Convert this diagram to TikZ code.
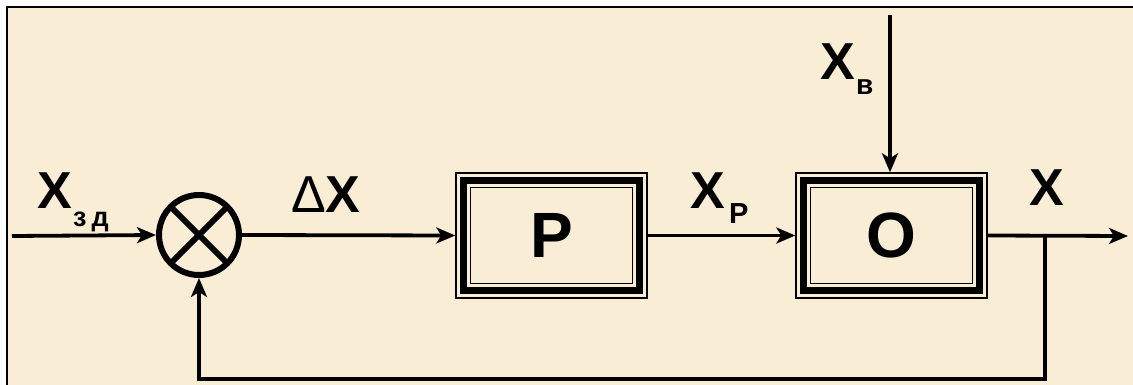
\documentclass[tikz,border=0pt]{standalone}
\usepackage{fontspec}
\setmainfont{Liberation Sans}
\usetikzlibrary{arrows.meta}
\definecolor{bg}{RGB}{249,237,213}
\begin{document}
\begin{tikzpicture}[x=1pt,y=-1pt,
 conn/.style={line width=3.8pt,-{Stealth[length=19pt,width=16pt,inset=5pt]}},
 blk/.style={draw,line width=1.4pt,minimum width=191pt,minimum height=125pt,inner sep=0pt,font=\fontsize{64}{64}\selectfont\bfseries},
 sumnode/.style={draw,circle,line width=6pt,minimum size=80pt,inner sep=0pt},
 lab/.style={inner sep=0pt,font=\fontsize{52}{52}\selectfont\bfseries,anchor=base west},
 sub/.style={inner sep=0pt,font=\fontsize{27}{27}\selectfont\bfseries,anchor=base west},
]
\useasboundingbox (0,0) rectangle (1133,385);
\fill[white] (0,0) rectangle (1133,385);
\fill[bg] (7,7) rectangle (1133,385);
\draw[line width=2.5pt] (7,385) -- (7,7) -- (1133,7);

% summing junction
\node[sumnode] (S) at (199,235) {};
\draw[line width=6pt,shorten <=2pt,shorten >=2pt] (S.north east) -- (S.south west);
\draw[line width=6pt,shorten <=2pt,shorten >=2pt] (S.north west) -- (S.south east);

% blocks
\node[blk] (P) at (551.5,235.5) {P};
\node[blk] (O) at (891.5,235.5) {O};
\foreach \b in {P,O}{
  \draw[line width=7.5pt] ([shift={(8,8)}]\b.north west) rectangle ([shift={(-8,-8)}]\b.south east);
  \draw[line width=1.3pt] ([shift={(15,15)}]\b.north west) rectangle ([shift={(-15,-15)}]\b.south east);
}

% labels
\node[lab] (xzd) at (37,208) {X};
\node[sub] (xzds) at (73,226) {з\hspace{5pt}д};
\node[lab] (dx) at (291,212) {{\mdseries Δ}X};
\node[lab] (xp) at (690,208) {X};
\node[sub,font=\fontsize{29}{29}\selectfont\bfseries] (xps) at (729,223) {P};
\node[lab] (xv) at (820,80) {X};
\node[sub,font=\fontsize{28}{28}\selectfont\bfseries] (xvs) at (856,95) {в};
\node[lab] (xo) at (1029,205) {X};

% connectors
\coordinate (in) at (12,236);
\draw[conn] (in) -- (S.west);
\draw[conn] (S.east) -- (P.west);
\draw[conn] (P.east) -- (O.west);
\coordinate (vin) at (890,15);
\draw[conn] (vin) -- (vin |- O.north);
\coordinate (out) at (1128,236);
\draw[conn] (O.east) -- (out);
\coordinate (br) at (1045,236);
\coordinate (bb) at (1045,379);
\draw[conn] (br) -- (bb) -| (S.south);
\end{tikzpicture}
\end{document}
